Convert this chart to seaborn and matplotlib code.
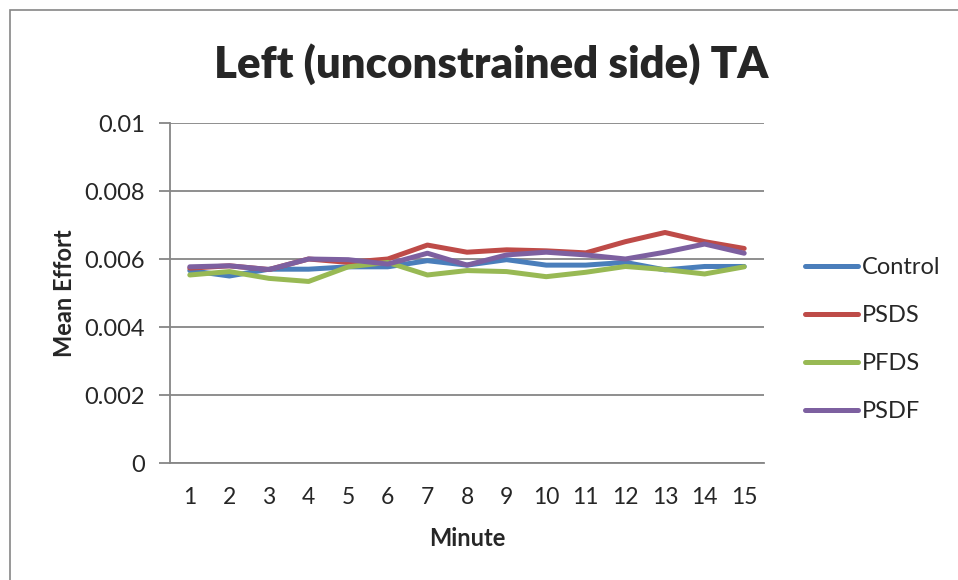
import numpy as np
import pandas as pd
import matplotlib
matplotlib.use("Agg")
import matplotlib.pyplot as plt
from matplotlib.patches import Rectangle
import seaborn as sns

minutes = list(range(1, 16))
control = [0.00566, 0.00550, 0.00570, 0.00570, 0.00577, 0.00577, 0.00595, 0.00582,
           0.00598, 0.00582, 0.00582, 0.00590, 0.00568, 0.00578, 0.00578]
psds = [0.00573, 0.00580, 0.00569, 0.00600, 0.00590, 0.00600, 0.00641, 0.00620,
        0.00627, 0.00624, 0.00618, 0.00651, 0.00678, 0.00651, 0.00631]
pfds = [0.00553, 0.00563, 0.00543, 0.00534, 0.00577, 0.00590, 0.00553, 0.00566,
        0.00563, 0.00548, 0.00561, 0.00578, 0.00569, 0.00556, 0.00577]
psdf = [0.00577, 0.00580, 0.00569, 0.00600, 0.00598, 0.00585, 0.00617, 0.00582,
        0.00612, 0.00620, 0.00612, 0.00600, 0.00620, 0.00644, 0.00617]
series_names = ["Control", "PSDS", "PFDS", "PSDF"]
colors = ["#4A7EBB", "#BE4B48", "#98B954", "#7D60A0"]
y_ticks = [0, 0.002, 0.004, 0.006, 0.008, 0.01]
y_tick_labels = ["0", "0.002", "0.004", "0.006", "0.008", "0.01"]

sns.set_theme(style="white")
plt.rcParams["font.family"] = ["Lato", "DejaVu Sans"]

df = pd.DataFrame({
    "Minute": minutes * 4,
    "Mean Effort": control + psds + pfds + psdf,
    "Series": sum([[n] * len(minutes) for n in series_names], []),
})

W, H = 958, 580
fig = plt.figure(figsize=(W / 100, H / 100), dpi=100)
fig.patch.set_facecolor("white")

# outer chart border
fig.add_artist(Rectangle((10 / W, -0.05), 1.2, (H - 10) / H + 0.05,
                         transform=fig.transFigure, fill=False,
                         edgecolor="#868686", linewidth=1.2))

ax = fig.add_axes([170 / W, (H - 463) / H, 594 / W, (463 - 123) / H])
sns.lineplot(data=df, x="Minute", y="Mean Effort", hue="Series",
             hue_order=series_names, palette=colors, linewidth=3.6,
             ax=ax, legend=True)

ax.set_xlim(0.5, 15.5)
ax.set_ylim(0, 0.01)
ax.set_xticks(minutes)
ax.set_xticklabels([str(m) for m in minutes])
ax.set_yticks(y_ticks)
ax.set_yticklabels(y_tick_labels)
ax.yaxis.grid(True, color="#868686", linewidth=1.3)
ax.set_axisbelow(True)
for s in ["top", "right"]:
    ax.spines[s].set_visible(False)
for s in ["left", "bottom"]:
    ax.spines[s].set_color("#868686")
    ax.spines[s].set_linewidth(1.3)
ax.tick_params(axis="y", which="both", left=True, length=8, width=1.3,
               color="#868686", labelsize=17, pad=10)
ax.tick_params(axis="x", bottom=False, labelsize=16.5, pad=11)

ax.set_xlabel("Minute", fontsize=17, fontweight="bold", labelpad=14)
ax.set_ylabel("Mean Effort", fontsize=17, fontweight="bold", labelpad=6)

fig.text(491 / W, 1 - 64 / H, "Left (unconstrained side) TA", ha="center",
         va="center", fontsize=31.5, fontweight="heavy")

handles, labels = ax.get_legend_handles_labels()
leg = ax.legend(handles, labels, loc="upper left",
                bbox_to_anchor=(805 / W, 1 - 257 / H),
                bbox_transform=fig.transFigure, frameon=False,
                fontsize=17, handlelength=2.25, handletextpad=0.15,
                labelspacing=1.15, borderaxespad=0, borderpad=0)
for line in leg.get_lines():
    line.set_linewidth(3.6)

fig.savefig("out.png", dpi=100)
